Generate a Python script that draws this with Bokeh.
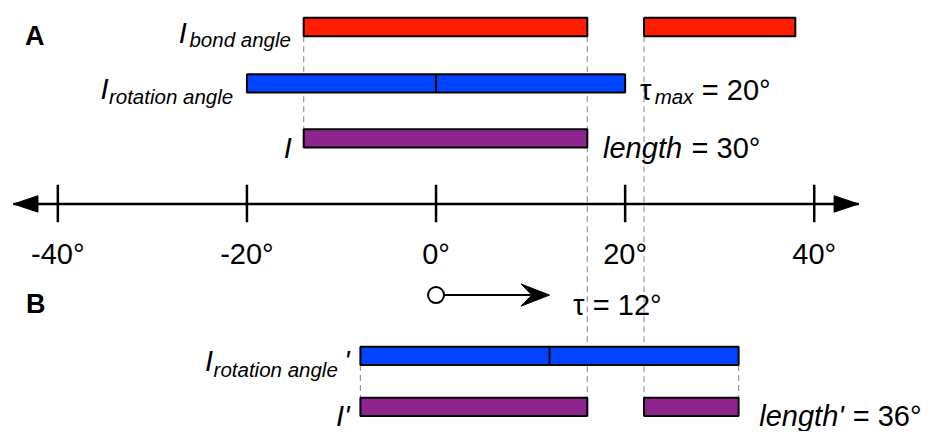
from bokeh.plotting import figure
from bokeh.models import Range1d
from bokeh.core.properties import value
from bokeh.embed import file_html
from bokeh.resources import INLINE

# ---------------- data (degrees) ----------------
ticks = [-40, -20, 0, 20, 40]
tick_labels = ["-40°", "-20°", "0°", "20°", "40°"]

bond_start = [-14, 22]
bond_end = [16, 38]
rot_start = [-20]
rot_end = [20]
rot_centre = [0]
len_start = [-14]
len_end = [16]

tau = 12
rotB_start = [-8]
rotB_end = [32]
rotB_centre = [12]
lenB_start = [-8, 22]
lenB_end = [16, 32]
length_B = 36

# ---------------- layout ----------------
W, H = 934, 431
REF_W, REF_H = 950, 447        # design grid (scaled to the figure)
SX = W / REF_W                 # screen px per design px
PX = 9.617                     # design px per degree
ZERO = 443                     # design x of 0 degrees
FONT = value("Liberation Sans")
RED, BLUE, PURPLE = "#FF1F00", "#0044FF", "#8E248E"
BH = 19
Y_BOND, Y_ROT, Y_LEN, Y_AXIS = 27.5, 86, 143, 211
Y_TAU, Y_ROTB, Y_LENB = 305.5, 368.5, 421.5
AXIS_LIM = 44.7
F_MAIN, F_SUB, F_LET = 29, 20.5, 27

p = figure(width=W, height=H, output_backend="svg", toolbar_location=None,
           x_range=Range1d(-ZERO / PX, (REF_W - ZERO) / PX),
           y_range=Range1d(REF_H, 0),
           x_axis_location=None, y_axis_location=None, min_border=0)
p.grid.visible = False
p.outline_line_color = None
p.background_fill_color = "white"


def txt(x, y, s, size, style="normal", align="left", dx=0):
    p.text(x=[x], y=[y], text=[s], text_font=FONT, text_font_size=f"{size}px",
           text_font_style=style, text_align=align, text_baseline="alphabetic",
           x_offset=dx * SX, text_color="black")


def bars(starts, ends, yc, color):
    p.quad(left=starts, right=ends, top=[yc - BH / 2] * len(starts),
           bottom=[yc + BH / 2] * len(starts), fill_color=color,
           line_color="black", line_width=2)


# dashed guide lines (behind the bars)
gx = [len_start[0], bond_end[0], bond_start[1], rotB_start[0], rotB_end[0]]
gy0 = [Y_BOND + BH / 2] * 3 + [Y_ROTB + BH / 2] * 2
gy1 = [Y_LEN - BH / 2] + [Y_LENB - BH / 2] * 4
p.segment(x0=gx, x1=gx, y0=gy0, y1=gy1, line_color="#9a9a9a",
          line_width=1.2, line_dash="6 4")

# bars
bars(bond_start, bond_end, Y_BOND, RED)
bars(rot_start, rot_end, Y_ROT, BLUE)
p.segment(x0=rot_centre, x1=rot_centre, y0=[Y_ROT - BH / 2], y1=[Y_ROT + BH / 2],
          line_color="black", line_width=2)
bars(len_start, len_end, Y_LEN, PURPLE)
bars(rotB_start, rotB_end, Y_ROTB, BLUE)
p.segment(x0=rotB_centre, x1=rotB_centre, y0=[Y_ROTB - BH / 2], y1=[Y_ROTB + BH / 2],
          line_color="black", line_width=2)
bars(lenB_start, lenB_end, Y_LENB, PURPLE)

# number line
p.segment(x0=[-AXIS_LIM], x1=[AXIS_LIM], y0=[Y_AXIS], y1=[Y_AXIS],
          line_color="black", line_width=2.5)
p.segment(x0=ticks, x1=ticks, y0=[Y_AXIS - 20] * len(ticks),
          y1=[Y_AXIS + 19] * len(ticks), line_color="black", line_width=2.5)
hl, hw = 25 / PX, 8.5
p.patches(xs=[[-AXIS_LIM, -AXIS_LIM + hl, -AXIS_LIM + hl],
              [AXIS_LIM, AXIS_LIM - hl, AXIS_LIM - hl]],
          ys=[[Y_AXIS, Y_AXIS - hw, Y_AXIS + hw]] * 2,
          fill_color="black", line_color="black", line_width=1)
p.text(x=ticks, y=[263] * len(ticks), text=tick_labels, text_font=FONT,
       text_font_size=f"{F_MAIN}px", text_align="center",
       text_baseline="alphabetic", text_color="black")

# tau shift arrow
p.segment(x0=[0], x1=[tau - 19 / PX], y0=[Y_TAU], y1=[Y_TAU],
          line_color="black", line_width=2)
p.patch(x=[tau, tau - 29 / PX, tau - 18 / PX, tau - 29 / PX],
        y=[Y_TAU, Y_TAU - 11.5, Y_TAU, Y_TAU + 11.5],
        fill_color="black", line_color="black", line_width=1)
p.scatter(x=[0], y=[Y_TAU], size=16, marker="circle", fill_color="white",
          line_color="black", line_width=2)

# panel letters
x_left = -ZERO / PX
txt(x_left, 37, "A", F_LET, "bold", dx=25)
txt(x_left, 315, "B", F_LET, "bold", dx=26)

# left-hand labels
txt(bond_start[0], Y_BOND + 13, "bond angle", F_SUB, "italic", "right", dx=-13)
txt(bond_start[0], Y_BOND + 6, "I", F_MAIN, "italic", "left", dx=-127)
txt(rot_start[0], Y_ROT + 13.5, "rotation angle", F_SUB, "italic", "right", dx=-14)
txt(rot_start[0], Y_ROT + 6, "I", F_MAIN, "italic", "left", dx=-149)
txt(len_start[0], Y_LEN + 10, "I", F_MAIN, "italic", "right", dx=-12)
txt(rotB_start[0], Y_ROTB + 5, "'", F_MAIN, "italic", "right", dx=-11)
txt(rotB_start[0], Y_ROTB + 14, "rotation angle", F_SUB, "italic", "right", dx=-23)
txt(rotB_start[0], Y_ROTB + 5, "I", F_MAIN, "italic", "left", dx=-158)
txt(lenB_start[0], Y_LENB + 9, "I'", F_MAIN, "italic", "right", dx=-11)

# right-hand labels
txt(rot_end[0], Y_ROT + 7, "τ", F_MAIN, "normal", dx=15)
txt(rot_end[0], Y_ROT + 14, "max", F_SUB, "italic", dx=30)
txt(rot_end[0], Y_ROT + 7, f"= {rot_end[0] - rot_centre[0]}°", F_MAIN, "normal", dx=78)
txt(len_end[0], Y_LEN + 10, "length", F_MAIN, "italic", dx=16)
txt(len_end[0], Y_LEN + 10, f"= {len_end[0] - len_start[0]}°", F_MAIN, "normal", dx=106)
txt(tau, Y_TAU + 10, "τ", F_MAIN, "normal", dx=24)
txt(tau, Y_TAU + 10, f"= {tau}°", F_MAIN, "normal", dx=44)
txt(lenB_end[-1], Y_LENB + 9, "length'", F_MAIN, "italic", dx=21)
txt(lenB_end[-1], Y_LENB + 9, f"= {length_B}°", F_MAIN, "normal", dx=116)

open("out.html", "w").write(file_html(p, INLINE))
